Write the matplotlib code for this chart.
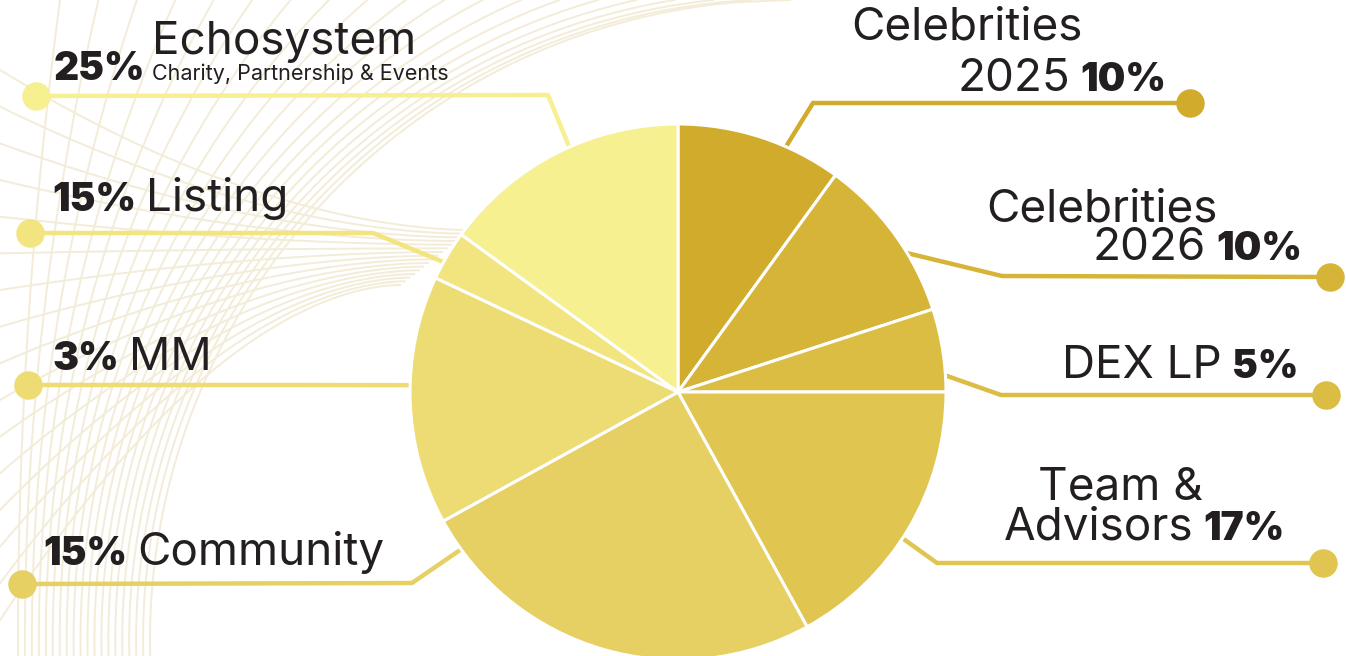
import matplotlib.pyplot as plt
import numpy as np

# Porciones del grafico (sentido horario desde las 12)
porciones = ['Celebrities 2025', 'Celebrities 2026', 'DEX LP', 'Team & Advisors',
             'Community', 'MM', 'Listing', 'Echosystem']
valores = [10, 10, 5, 17, 25, 15, 3, 15]
colores = ['#D1AC2C', '#D6B437', '#DBBD44', '#E0C551',
           '#E6D064', '#EDDB73', '#F2E580', '#F6F090']

# Textos de las etiquetas
pct_etiquetas = ['10%', '10%', '5%', '17%', '15%', '3%', '15%', '25%']

negro = '#231F20'
fondo = '#F3ECD8'
plt.rcParams['font.family'] = ['Inter', 'DejaVu Sans']

fig = plt.figure(figsize=(13.46, 6.56), dpi=100)
ax = fig.add_axes([0, 0, 1, 1])

# centro y radio del pastel (en pixeles, eje y hacia abajo)
cx, cy, radio = 678, 392, 268

# Lineas decorativas del fondo
# familia casi vertical: punto mas a la izquierda (a) abajo y cruce (b) arriba
for a, b in zip(np.linspace(18, 150, 20), np.linspace(60, 790, 20)):
    d = 640
    R = ((b - a) ** 2 + d ** 2) / (2 * (b - a))
    yy = np.linspace(0, 656, 300)
    xx = a + R - np.sqrt(np.clip(R ** 2 - (yy - d) ** 2, 0, None))
    ax.plot(xx, yy, color=fondo, lw=1.4, zorder=0)
# familia horizontal que se junta cerca del borde izquierdo del pastel
for y0, yf, xf in zip(np.linspace(70, 620, 16), np.linspace(230, 285, 16),
                      np.linspace(470, 400, 16)):
    xx = np.linspace(0, xf, 200)
    yy = y0 + (yf - y0) * (1 - (1 - xx / xf) ** 1.8)
    ax.plot(xx, yy, color=fondo, lw=1.4, zorder=0)

# Pastel (eje y invertido: startangle=-90 y counterclock=True -> horario visual)
wedges, _ = ax.pie(valores, colors=colores, startangle=-90, counterclock=True,
                   center=(cx, cy), radius=radio,
                   wedgeprops=dict(edgecolor='white', linewidth=2.2))
for w in wedges:
    w.set_zorder(3)

# Lineas guia: angulo en el borde, codo y punto final
angulos = [66.5, 33, 4.3, -33, -144, 178.5, 150.8, 114]
codos = [(813, 103), (1002, 276), (1001, 395), (937, 563),
         (412, 583), (300, 385), (373, 233), (548, 95)]
puntos = [(1190, 103), (1330, 277), (1326, 395), (1323, 563),
          (22, 584), (28, 385), (30, 233), (36, 96)]

for ang, codo, pt, col in zip(angulos, codos, puntos, colores):
    t = np.radians(ang)
    ex = cx + radio * 0.97 * np.cos(t)
    ey = cy - radio * 0.97 * np.sin(t)
    ax.plot([ex, codo[0], pt[0]], [ey, codo[1], pt[1]], color=col, lw=3.2,
            solid_joinstyle='miter', zorder=2)
    ax.plot(pt[0], pt[1], 'o', color=col, markersize=19.5, zorder=2)

ax.set_xlim(0, 1346)
ax.set_ylim(656, 0)
ax.axis('off')

renderer = fig.canvas.get_renderer()


def texto(x, y, partes, ha='left', gap=10):
    objs = []
    for s, peso, tam in partes:
        objs.append(ax.text(0, y, s, fontsize=tam, fontweight=peso, color=negro,
                            va='baseline', ha='left', zorder=5))
    anchos = [o.get_window_extent(renderer).width for o in objs]
    total = sum(anchos) + gap * (len(objs) - 1)
    x0 = x if ha == 'left' else x - total
    for o, w in zip(objs, anchos):
        o.set_x(x0)
        x0 += w + gap


G = 33    # tamano de las palabras
P = 28    # tamano de los porcentajes
R = 'normal'
N = 'black'  # peso de los porcentajes
texto(851, 40, [('Celebrities', R, G)])
texto(1166, 91, [('2025', R, G), (pct_etiquetas[0], N, P)], ha='right')
texto(986, 222, [('Celebrities', R, G)])
texto(1302, 260, [('2026', R, G), (pct_etiquetas[1], N, P)], ha='right')
texto(1298, 378, [('DEX LP', R, G), (pct_etiquetas[2], N, P)], ha='right')
texto(1038, 500, [('Team &', R, G)])
texto(1285, 540, [('Advisors', R, G), (pct_etiquetas[3], N, P)], ha='right')
texto(43, 565, [(pct_etiquetas[4], N, P), ('Community', R, G)])
texto(52, 370, [(pct_etiquetas[5], N, P), ('MM', R, G)])
texto(52, 211, [(pct_etiquetas[6], N, P), ('Listing', R, G)])
texto(145, 80, [(pct_etiquetas[7], N, P)], ha='right')
texto(152, 54, [('Echosystem', R, G)])
texto(152, 80, [('Charity, Partnership & Events', R, 15.5)])

fig.savefig('out.png', dpi=100)
